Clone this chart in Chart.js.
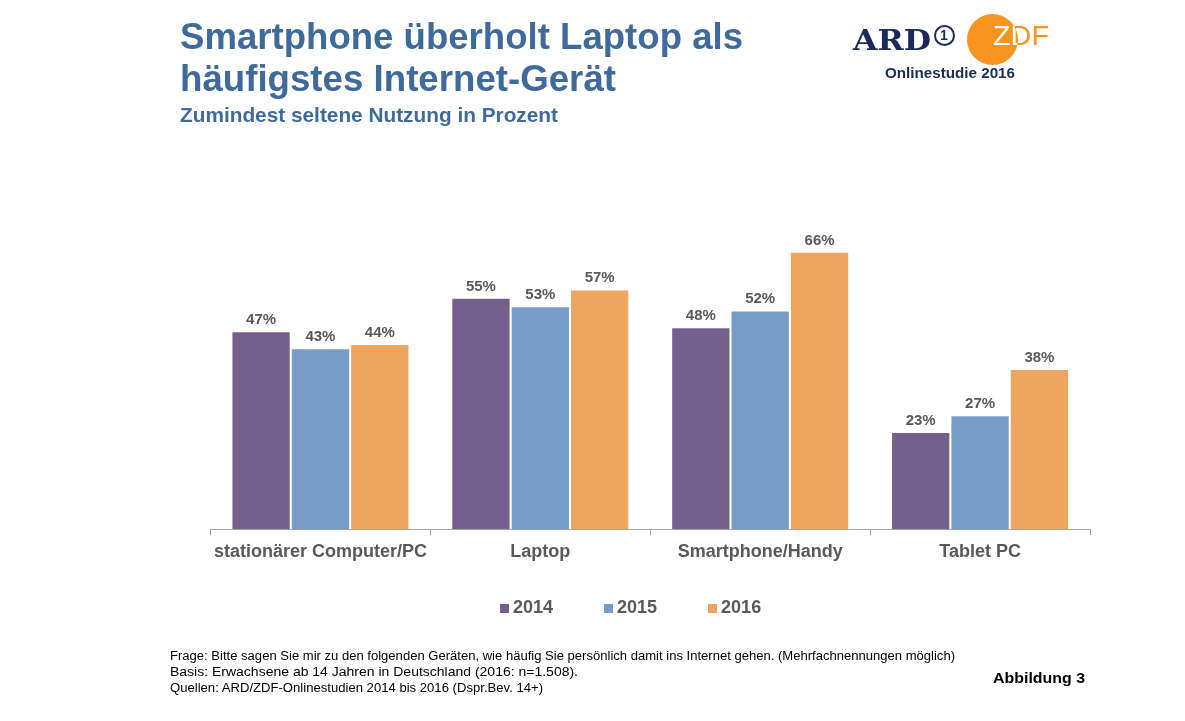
<!DOCTYPE html>
<html lang="de">
<head>
<meta charset="utf-8">
<script src="https://cdn.jsdelivr.net/npm/chart.js@4.4.1/dist/chart.umd.min.js"></script>
<style>
  html, body { margin:0; padding:0; background:#fff; }
  #wrap { position:relative; width:1185px; height:721px; overflow:hidden; font-family:"Liberation Sans", Arial, sans-serif; }
  #c { position:absolute; left:0; top:0; }
  .t { position:absolute; white-space:nowrap; line-height:1; transform-origin:0 0; }
  .title { color:#3E6A9C; font-weight:bold; font-size:37px; left:180px; }
  .sub { color:#3E6A9C; font-weight:bold; font-size:21px; left:180px; }
  .foot { color:#000; font-size:12.5px; left:170px; }
  .navy { color:#1B2A5C; }
  #legend { position:absolute; left:500px; top:598px; display:flex; gap:51px; }
  .li { display:flex; align-items:center; font-weight:bold; font-size:18px; color:#595959; line-height:1; }
  .sw { width:9px; height:9px; margin-right:4px; margin-top:2px; }
</style>
</head>
<body>
<div id="wrap">
  <canvas id="c" width="1185" height="721"></canvas>

  <div class="t title" style="top:18px" data-fit="563">Smartphone überholt Laptop als</div>
  <div class="t title" style="top:60px" data-fit="436">häufigstes Internet-Gerät</div>
  <div class="t sub" style="top:104px" data-fit="378">Zumindest seltene Nutzung in Prozent</div>

  <!-- Logo -->
  <div class="t navy" style="left:853px; top:27px; font-family:'DejaVu Serif','Liberation Serif',serif; font-weight:bold; font-size:27px;" data-fit="78">ARD</div>
  <div style="position:absolute; left:934px; top:25px; width:17px; height:17px; border:2.5px solid #1B2A5C; border-radius:50%;"></div>
  <div class="t navy" style="left:940px; top:28px; font-weight:bold; font-size:14px;">1</div>
  <div class="t" style="left:993px; top:22px; font-size:28px; color:#F7941D; letter-spacing:0px;" data-fit="56">ZDF</div>
  <div style="position:absolute; left:967px; top:14px; width:51px; height:51px; border-radius:50%; background:#F7941D; overflow:hidden;">
    <div class="t" style="left:26px; top:8px; font-size:28px; color:#fff; letter-spacing:0px;" data-fit="56">ZDF</div>
  </div>
  <div class="t navy" style="left:885px; top:65px; font-weight:bold; font-size:15px;" data-fit="130">Onlinestudie 2016</div>

  <div id="legend"></div>

  <div class="t foot" style="top:650px" data-fit="785">Frage: Bitte sagen Sie mir zu den folgenden Geräten, wie häufig Sie persönlich damit ins Internet gehen. (Mehrfachnennungen möglich)</div>
  <div class="t foot" style="top:666px" data-fit="408">Basis: Erwachsene ab 14 Jahren in Deutschland  (2016: n=1.508).</div>
  <div class="t foot" style="top:682px" data-fit="373">Quellen: ARD/ZDF-Onlinestudien 2014 bis 2016 (Dspr.Bev. 14+)</div>
  <div class="t" style="left:993px; top:670px; font-weight:bold; font-size:15px; color:#000;" data-fit="92">Abbildung 3</div>
</div>

<script>
// ---- Data ----
const categories = ['stationärer Computer/PC', 'Laptop', 'Smartphone/Handy', 'Tablet PC'];
const seriesNames = ['2014', '2015', '2016'];
const values2014 = [47, 55, 48, 23];
const values2015 = [43, 53, 52, 27];
const values2016 = [44, 57, 66, 38];
const seriesColors = ['#74608C', '#769CC7', '#EDA55F'];

// ---- Fit text widths ----
document.querySelectorAll('[data-fit]').forEach(el => {
  const target = parseFloat(el.dataset.fit);
  const w = el.getBoundingClientRect().width;
  if (w > 0) {
    const s = target / w;
    if (s > 0.7 && s < 1.35) el.style.transform = 'scaleX(' + s + ')';
  }
});

// ---- Legend ----
const legend = document.getElementById('legend');
seriesNames.forEach((n, i) => {
  const d = document.createElement('div');
  d.className = 'li';
  d.innerHTML = '<span class="sw" style="background:' + seriesColors[i] + '"></span><span>' + n + '</span>';
  legend.appendChild(d);
});

// ---- Value labels plugin ----
const valueLabels = {
  id: 'valueLabels',
  afterDatasetsDraw(chart) {
    const ctx = chart.ctx;
    ctx.save();
    ctx.font = 'bold 15px "Liberation Sans", Arial, sans-serif';
    ctx.fillStyle = '#595959';
    ctx.textAlign = 'center';
    ctx.textBaseline = 'alphabetic';
    chart.data.datasets.forEach((ds, di) => {
      chart.getDatasetMeta(di).data.forEach((el, i) => {
        ctx.fillText(ds.data[i] + '%', el.x, el.y - 8);
      });
    });
    ctx.restore();
  }
};

const allSeries = [values2014, values2015, values2016];

new Chart(document.getElementById('c'), {
  type: 'bar',
  data: {
    labels: categories,
    datasets: allSeries.map((v, i) => ({
      label: seriesNames[i],
      data: v,
      backgroundColor: seriesColors[i],
      borderWidth: 0,
      categoryPercentage: 0.81,
      barPercentage: 0.965
    }))
  },
  options: {
    responsive: false,
    animation: false,
    layout: { padding: { left: 210.5, right: 95, top: 236, bottom: 151.7 } },
    plugins: { legend: { display: false }, tooltip: { enabled: false } },
    scales: {
      x: {
        grid: { display: true, drawOnChartArea: false, drawTicks: true, tickLength: 6, color: '#A6A6A6', offset: true },
        border: { display: true, color: '#A6A6A6', width: 1 },
        ticks: { color: '#595959', font: { family: '"Liberation Sans", Arial, sans-serif', size: 18, weight: 'bold' }, padding: 6, maxRotation: 0, autoSkip: false },
        afterFit: s => { s.height = 40; }
      },
      y: { display: false, min: 0, max: 70 }
    }
  },
  plugins: [valueLabels]
});
</script>
</body>
</html>
